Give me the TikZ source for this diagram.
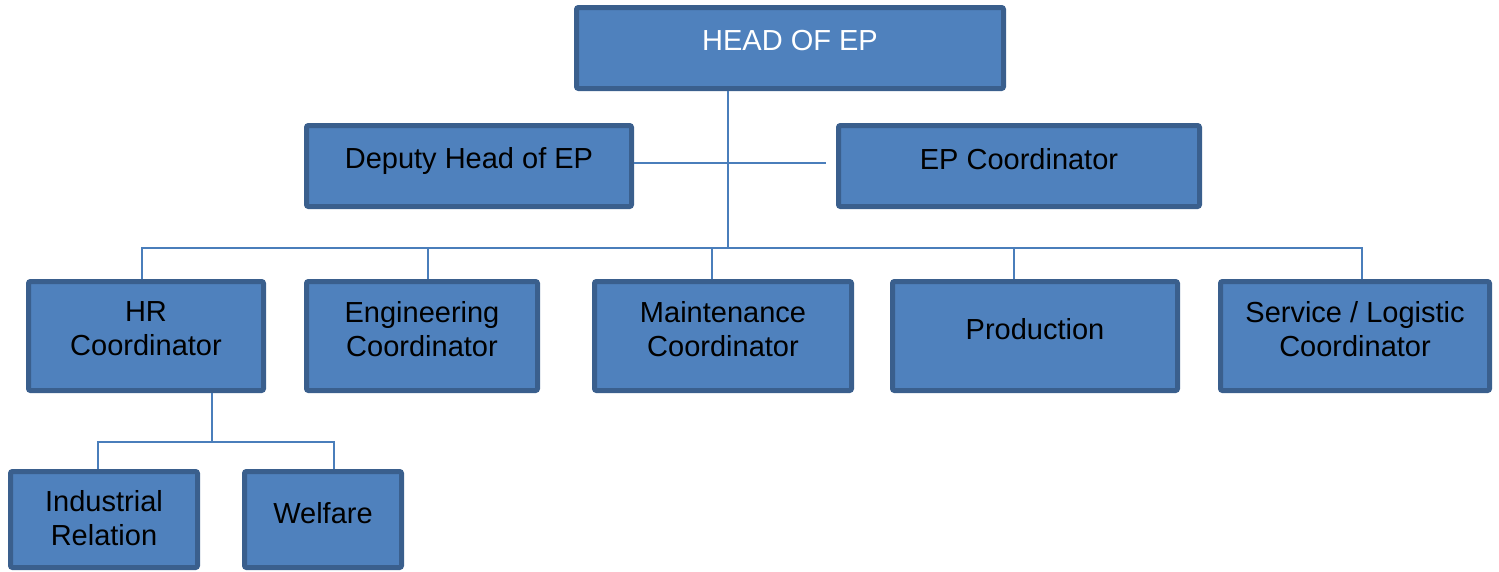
\documentclass[tikz,border=0pt]{standalone}
\usepackage{fontspec}
\setmainfont{Liberation Sans}
\definecolor{boxfill}{HTML}{4F81BD}
\definecolor{boxline}{HTML}{3A5F8D}
\definecolor{conn}{HTML}{4A7EBB}
\newcommand\orgbox[7]{%
  \node[orgshape, minimum width=#4-5pt, minimum height=#5-5pt] (#1) at (#2,#3) {};
  \node[orglabel] (#1-t) at ([yshift=#6]#1.center) {#7};
}
\begin{document}
\begin{tikzpicture}[x=1pt,y=-1pt,
  orgshape/.style={draw=boxline, fill=boxfill, line width=5pt, rounded corners=2pt, inner sep=0pt},
  orglabel/.style={align=center, font=\fontsize{29}{34}\selectfont, text=black, inner sep=0pt},
  link/.style={draw=conn, line width=2pt}]
\useasboundingbox (0,0) rectangle (1499,571);
\coordinate (trunk) at (728,91);
\coordinate (bus) at (728,248);
\coordinate (depend) at (826,163);
\coordinate (hrbus) at (212,442);
\coordinate (xhr) at (142,0);
\coordinate (xeng) at (428,0);
\coordinate (xmnt) at (712,0);
\coordinate (xprod) at (1014,0);
\coordinate (xsrv) at (1362,0);
\coordinate (xind) at (98,0);
\coordinate (xwel) at (334,0);
\orgbox{head}{790}{48}{432pt}{86pt}{7pt}{\textcolor{white}{HEAD OF EP}}
\orgbox{dep}{469}{166}{330pt}{86pt}{5pt}{Deputy Head of EP}
\orgbox{epc}{1019}{166}{366pt}{86pt}{7pt}{EP Coordinator}
\orgbox{hr}{146}{336}{240pt}{114pt}{7pt}{HR\\Coordinator}
\orgbox{eng}{422}{336}{236pt}{114pt}{7pt}{Engineering\\Coordinator}
\orgbox{mnt}{723}{336}{262pt}{114pt}{7pt}{Maintenance\\Coordinator}
\orgbox{prod}{1035}{336}{290pt}{114pt}{7pt}{Production}
\orgbox{srv}{1355}{336}{274pt}{114pt}{7pt}{Service / Logistic\\Coordinator}
\orgbox{ind}{104}{519.5}{192pt}{101pt}{1pt}{Industrial\\Relation}
\orgbox{wel}{323}{519.5}{162pt}{101pt}{6pt}{Welfare}
\draw[link] (head.south -| trunk) -- (bus);
\draw[link] (dep.east |- depend) -- (depend);
\draw[link] (hr.north -| xhr) |- (bus) -| (srv.north -| xsrv);
\draw[link] (bus -| xeng) -- (eng.north -| xeng);
\draw[link] (bus -| xmnt) -- (mnt.north -| xmnt);
\draw[link] (bus -| xprod) -- (prod.north -| xprod);
\draw[link] (hr.south -| hrbus) -- (hrbus);
\draw[link] (ind.north -| xind) |- (hrbus) -| (wel.north -| xwel);
\end{tikzpicture}
\end{document}
